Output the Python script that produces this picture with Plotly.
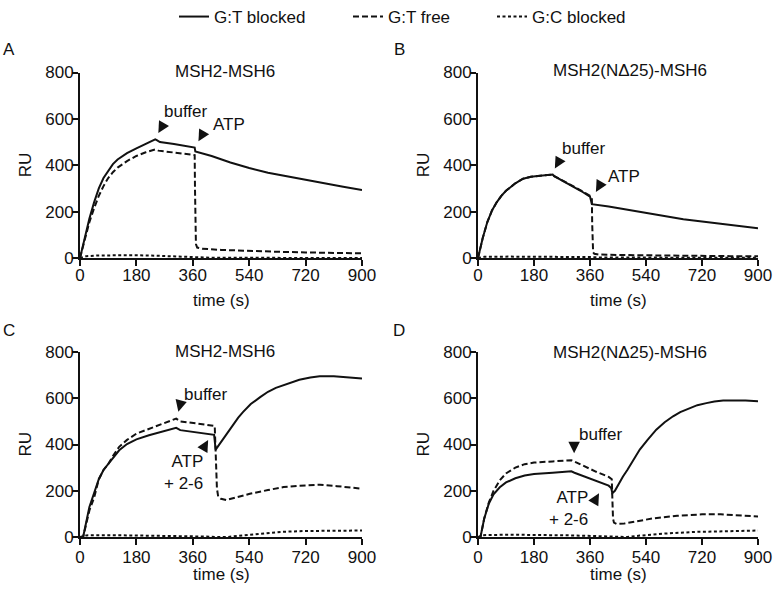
import plotly.graph_objects as go

# ---------------- data ----------------
TIME_TICKS = [0, 180, 360, 540, 720, 900]
RU_TICKS = [0, 200, 400, 600, 800]
SERIES = ["G:T blocked", "G:T free", "G:C blocked"]
PANEL_LETTERS = ["A", "B", "C", "D"]
PANEL_TITLES = ["MSH2-MSH6", "MSH2(NΔ25)-MSH6", "MSH2-MSH6", "MSH2(NΔ25)-MSH6"]

# Panel A
A_solid_t = [0, 15, 30, 45, 60, 75, 90, 105, 120, 150, 180, 210, 240, 245, 255, 300, 360, 366, 368, 420, 480, 540, 600, 660, 720, 780, 840, 900]
A_solid_y = [0, 90, 170, 240, 300, 345, 378, 405, 425, 452, 473, 493, 512, 508, 500, 492, 480, 476, 460, 440, 412, 388, 368, 352, 337, 322, 307, 293]
A_dash_t = [0, 15, 30, 45, 60, 75, 90, 105, 120, 150, 180, 210, 240, 250, 300, 366, 367, 368, 370, 374, 390, 450, 540, 630, 720, 810, 900]
A_dash_y = [0, 80, 155, 215, 268, 310, 345, 370, 390, 418, 440, 456, 468, 463, 456, 444, 300, 120, 60, 45, 40, 35, 30, 27, 24, 22, 20]
A_dot_t = [0, 20, 60, 120, 180, 240, 300, 360, 370, 420, 900]
A_dot_y = [0, 8, 11, 13, 12, 10, 7, 4, 2, 1, 0]

# Panel B
B_solid_t = [0, 15, 30, 45, 60, 75, 90, 105, 120, 145, 170, 200, 240, 245, 270, 300, 330, 360, 363, 366, 420, 480, 540, 600, 660, 720, 780, 840, 900]
B_solid_y = [0, 85, 155, 205, 240, 268, 290, 308, 322, 342, 350, 355, 360, 353, 335, 312, 290, 265, 250, 232, 222, 208, 193, 180, 167, 157, 147, 137, 128]
B_dash_t = [0, 15, 30, 45, 60, 75, 90, 105, 120, 145, 170, 200, 240, 245, 270, 300, 330, 360, 366, 367, 368, 370, 374, 390, 450, 540, 630, 720, 810, 900]
B_dash_y = [0, 85, 155, 205, 240, 268, 290, 308, 322, 342, 350, 355, 360, 353, 336, 314, 292, 268, 258, 150, 50, 25, 18, 15, 13, 11, 10, 9, 8, 8]
B_dot_t = [0, 20, 100, 200, 300, 360, 400, 900]
B_dot_y = [0, 5, 6, 6, 5, 4, 2, 1]

# Panel C
C_solid_t = [0, 10, 30, 45, 60, 75, 90, 105, 125, 150, 180, 220, 260, 300, 307, 320, 360, 400, 428, 433, 440, 455, 466, 490, 505, 520, 545, 575, 600, 625, 650, 675, 700, 735, 765, 810, 860, 900]
C_solid_y = [0, 0, 130, 190, 250, 290, 315, 345, 375, 402, 422, 440, 455, 468, 472, 462, 455, 448, 442, 378, 392, 420, 440, 490, 516, 540, 575, 605, 628, 645, 657, 670, 680, 690, 695, 695, 690, 685]
C_dash_t = [0, 10, 30, 45, 60, 75, 90, 105, 125, 150, 180, 220, 260, 300, 307, 320, 360, 400, 430, 432, 434, 437, 441, 450, 467, 500, 542, 600, 650, 700, 766, 820, 860, 900]
C_dash_y = [0, 0, 115, 170, 250, 290, 315, 350, 390, 420, 447, 468, 490, 508, 512, 500, 494, 486, 480, 420, 300, 210, 175, 165, 160, 172, 187, 203, 216, 222, 226, 220, 214, 209]
C_dot_t = [0, 20, 100, 200, 300, 400, 440, 470, 500, 540, 580, 640, 720, 800, 900]
C_dot_y = [0, 7, 8, 7, 5, 2, 0, 0, 4, 10, 16, 22, 26, 27, 28]

# Panel D
D_solid_t = [0, 8, 20, 35, 50, 70, 90, 120, 150, 180, 240, 300, 310, 340, 380, 420, 428, 432, 440, 450, 466, 480, 495, 520, 545, 573, 600, 627, 650, 680, 705, 734, 760, 788, 820, 860, 900]
D_solid_y = [0, 0, 80, 145, 185, 215, 236, 254, 266, 272, 278, 284, 278, 262, 242, 222, 212, 190, 200, 225, 262, 290, 322, 378, 420, 464, 496, 522, 540, 558, 570, 579, 586, 590, 591, 590, 587]
D_dash_t = [0, 8, 20, 35, 50, 70, 90, 120, 150, 180, 240, 300, 310, 340, 380, 420, 430, 432, 434, 437, 445, 470, 500, 560, 640, 720, 780, 840, 900]
D_dash_y = [0, 0, 80, 150, 200, 245, 275, 300, 315, 322, 327, 332, 326, 306, 282, 260, 250, 160, 80, 62, 57, 58, 66, 80, 92, 98, 98, 94, 89]
D_dot_t = [0, 15, 100, 200, 300, 400, 440, 480, 520, 600, 700, 800, 900]
D_dot_y = [0, 8, 10, 9, 7, 3, 0, 0, 6, 15, 22, 26, 28]

# event arrows (tip position in data units) and labels
A_ARROW_T = [250, 378]
A_ARROW_RU = [539, 503]
A_LABEL_T = [338, 476]
A_LABEL_RU = [631, 575]
B_ARROW_T = [247, 379]
B_ARROW_RU = [386, 285]
B_LABEL_T = [341, 469]
B_LABEL_RU = [473, 353]
C_ARROW_T = [314, 409]
C_ARROW_RU = [542, 419]
C_LABEL_T = [402, 329]
C_LABEL_RU = [618, 277]
D_ARROW_T = [309, 389]
D_ARROW_RU = [362, 189]
D_LABEL_T = [395, 292]
D_LABEL_RU = [445, 125]
LABELS_AB = ["buffer", "ATP"]
LABELS_CD = ["buffer", "ATP<br>+ 2-6"]

# ---------------- figure ----------------
W, H = 779, 594
FONT = "Liberation Sans, Arial, sans-serif"
INK = "#111111"

def px_x(p):
    return p / W

def px_y(p):
    return 1 - p / H

# plot areas in pixels: (left, right, top, bottom)
AREAS = [(80, 362, 72.5, 258), (478, 758, 72.5, 258),
         (80, 362, 352, 537), (478, 758, 352, 537)]

panels = [
    (A_solid_t, A_solid_y, A_dash_t, A_dash_y, A_dot_t, A_dot_y),
    (B_solid_t, B_solid_y, B_dash_t, B_dash_y, B_dot_t, B_dot_y),
    (C_solid_t, C_solid_y, C_dash_t, C_dash_y, C_dot_t, C_dot_y),
    (D_solid_t, D_solid_y, D_dash_t, D_dash_y, D_dot_t, D_dot_y),
]
DASHES = ["solid", "6px,3px", "3px,2.5px"]
LEGENDS = ["legend", "legend2", "legend3"]

fig = go.Figure()
for i, pdata in enumerate(panels):
    xa = "x" if i == 0 else f"x{i+1}"
    ya = "y" if i == 0 else f"y{i+1}"
    for s in range(3):
        fig.add_trace(go.Scatter(
            x=pdata[2 * s], y=pdata[2 * s + 1], mode="lines",
            name=SERIES[s], xaxis=xa, yaxis=ya,
            line=dict(color=INK, width=2, dash=DASHES[s]),
            showlegend=(i == 0), legend=LEGENDS[s],
            hoverinfo="skip",
        ))

axis_common = dict(
    showline=True, linecolor=INK, linewidth=2, ticks="outside", ticklen=6,
    tickwidth=2, tickcolor=INK, showgrid=False, zeroline=False,
    tickfont=dict(family=FONT, size=17, color=INK), fixedrange=True,
    automargin=False,
)

layout = dict(
    width=W, height=H, margin=dict(l=0, r=0, t=0, b=0, autoexpand=False),
    paper_bgcolor="white", plot_bgcolor="white",
    font=dict(family=FONT, size=17, color=INK),
)
x_standoff = [-5, -5, -2, -2]
for i, (l, r, t, b) in enumerate(AREAS):
    xk = "xaxis" if i == 0 else f"xaxis{i+1}"
    yk = "yaxis" if i == 0 else f"yaxis{i+1}"
    ya = "y" if i == 0 else f"y{i+1}"
    xa = "x" if i == 0 else f"x{i+1}"
    layout[xk] = dict(axis_common, domain=[px_x(l), px_x(r)], range=[0, 900],
                      tickvals=TIME_TICKS, anchor=ya, ticklabelstandoff=x_standoff[i])
    layout[yk] = dict(axis_common, domain=[px_y(b), px_y(t)], range=[0, 800],
                      tickvals=RU_TICKS, anchor=xa, ticklabelstandoff=-5)

leg_x = [174, 348, 492]
for k, lk in enumerate(LEGENDS):
    layout[lk] = dict(orientation="h", x=px_x(leg_x[k]), xanchor="left",
                      y=px_y(-1), yanchor="top", bgcolor="rgba(0,0,0,0)",
                      font=dict(family=FONT, size=17, color=INK),
                      itemwidth=30)
fig.update_layout(**layout)

annotations = []
# panel letters
letter_pos = [(9, 49), (399, 50), (9, 330), (399, 330)]
for i, (lx, ly) in enumerate(letter_pos):
    annotations.append(dict(text=PANEL_LETTERS[i], xref="paper", yref="paper",
                            x=px_x(lx), y=px_y(ly), xanchor="center", yanchor="middle",
                            showarrow=False,
                            font=dict(family=FONT, size=17, color=INK)))
# titles, axis titles
title_x = [0.514, 0.543, 0.514, 0.543]
title_y = [1.008, 1.01, 1.005, 1.0]
time_shift = [-42, -42, -37, -37]
for i in range(4):
    xd = "x domain" if i == 0 else f"x{i+1} domain"
    yd = "y domain" if i == 0 else f"y{i+1} domain"
    annotations.append(dict(text=PANEL_TITLES[i], xref=xd, yref=yd,
                            x=title_x[i], y=title_y[i], xanchor="center", yanchor="middle",
                            showarrow=False,
                            font=dict(family=FONT, size=17, color=INK)))
    annotations.append(dict(text="RU", xref=xd, yref=yd, x=0, y=0.5,
                            xanchor="center", yanchor="middle",
                            xshift=-55, textangle=-90, showarrow=False,
                            font=dict(family=FONT, size=17, color=INK)))
    annotations.append(dict(text="time (s)", xref=xd, yref=yd, x=0.5, y=0,
                            xanchor="center", yanchor="middle",
                            yshift=time_shift[i], showarrow=False,
                            font=dict(family=FONT, size=17, color=INK)))

# event arrows and labels
arrow_sets = [
    (A_ARROW_T, A_ARROW_RU, A_LABEL_T, A_LABEL_RU, LABELS_AB, [(4, -7), (4, -7)]),
    (B_ARROW_T, B_ARROW_RU, B_LABEL_T, B_LABEL_RU, LABELS_AB, [(4, -7), (4, -7)]),
    (C_ARROW_T, C_ARROW_RU, C_LABEL_T, C_LABEL_RU, LABELS_CD, [(2, -8), (-4, 7)]),
    (D_ARROW_T, D_ARROW_RU, D_LABEL_T, D_LABEL_RU, LABELS_CD, [(0, -8), (-4, 7)]),
]
for i, (at, ar, lt, lr, labs, dirs) in enumerate(arrow_sets):
    xa = "x" if i == 0 else f"x{i+1}"
    ya = "y" if i == 0 else f"y{i+1}"
    for j in range(2):
        annotations.append(dict(x=at[j], y=ar[j], xref=xa, yref=ya, text="",
                                showarrow=True, arrowhead=2, arrowsize=2.3,
                                arrowwidth=1, arrowcolor=INK,
                                ax=dirs[j][0], ay=dirs[j][1], standoff=0))
        annotations.append(dict(x=lt[j], y=lr[j], xref=xa, yref=ya, text=labs[j],
                                showarrow=False, align="right",
                                xanchor="center", yanchor="middle",
                                font=dict(family=FONT, size=17, color=INK)))

fig.update_layout(annotations=annotations)
fig.write_html(
    "out.html",
    config={"displayModeBar": False},
    post_script="document.body.style.margin='0';document.body.style.padding='0';"
                "document.body.style.overflow='hidden';",
)
